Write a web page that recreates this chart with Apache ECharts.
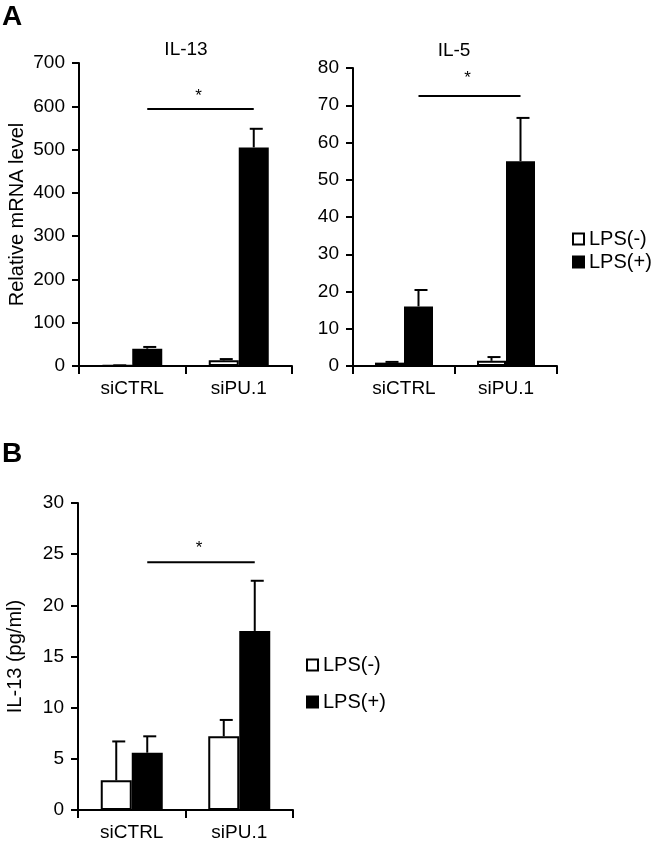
<!DOCTYPE html>
<html>
<head>
<meta charset="utf-8">
<script src="https://cdn.jsdelivr.net/npm/echarts@6/dist/echarts.min.js"></script>
<style>
html,body{margin:0;padding:0;background:#fff;}
#chart{width:651px;height:842px;}
</style>
</head>
<body>
<div id="chart"></div>
<script>
// ---- data ----
var categories = ['siCTRL', 'siPU.1'];
var seriesNames = ['LPS(-)', 'LPS(+)'];

// Panel A, IL-13 relative mRNA
var il13Neg = [1, 13];
var il13NegErr = [0.5, 3];
var il13Pos = [40, 505];
var il13PosErr = [4, 43];
var il13Sig = 594;
var il13Ticks = [0, 700, 100];

// Panel A, IL-5 relative mRNA
var il5Neg = [0.9, 1.4];
var il5NegErr = [0.2, 1.0];
var il5Pos = [16, 55];
var il5PosErr = [4.4, 11.6];
var il5Sig = 72.5;
var il5Ticks = [0, 80, 10];

// Panel B, IL-13 protein (pg/ml)
var elisaNeg = [2.9, 7.2];
var elisaNegErr = [3.8, 1.6];
var elisaPos = [5.6, 17.5];
var elisaPosErr = [1.6, 4.9];
var elisaSig = 24.2;
var elisaTicks = [0, 30, 5];

var FONT = '"Liberation Sans", Arial, sans-serif';
var BLACK = '#000';

function errData(vals, errs) {
  return vals.map(function (v, i) { return [i, v, errs[i]]; });
}

function errSeries(gi, vals, errs, offset) {
  return {
    type: 'custom', xAxisIndex: gi, yAxisIndex: gi, z: 1,
    silent: true,
    data: errData(vals, errs),
    renderItem: function (params, api) {
      var base = api.coord([api.value(0), api.value(1)]);
      var top = api.coord([api.value(0), api.value(1) + api.value(2)]);
      var x = base[0] + offset;
      return {
        type: 'group',
        children: [
          { type: 'line', shape: { x1: x, y1: base[1], x2: x, y2: top[1] },
            style: { stroke: BLACK, lineWidth: 2 } },
          { type: 'line', shape: { x1: x - 4, y1: top[1], x2: x + 9, y2: top[1] },
            style: { stroke: BLACK, lineWidth: 2 } }
        ]
      };
    }
  };
}

function sigSeries(gi, y, offset, starGap) {
  return {
    type: 'custom', xAxisIndex: gi, yAxisIndex: gi, z: 3, silent: true,
    data: [[0, 1, y]],
    renderItem: function (params, api) {
      var p0 = api.coord([api.value(0), api.value(2)]);
      var p1 = api.coord([api.value(1), api.value(2)]);
      var x0 = p0[0] + offset, x1 = p1[0] + offset;
      return {
        type: 'group',
        children: [
          { type: 'line', shape: { x1: x0, y1: p0[1], x2: x1, y2: p0[1] },
            style: { stroke: BLACK, lineWidth: 2 } },
          { type: 'text', style: { text: '*', x: (x0 + x1) / 2 - 2, y: p0[1] - starGap,
              textAlign: 'center', textVerticalAlign: 'middle',
              font: '17px ' + FONT, fill: BLACK } }
        ]
      };
    }
  };
}

function barSeries(gi, name, vals, white, bw) {
  return {
    type: 'bar', name: name, xAxisIndex: gi, yAxisIndex: gi, z: 2,
    data: vals, barWidth: bw, barGap: '0%',
    itemStyle: { color: white ? '#fff' : BLACK, borderColor: BLACK, borderWidth: 2 },
    emphasis: { disabled: true }
  };
}

var grids = [
  { left: 79, top: 63, width: 213, height: 303 },
  { left: 353, top: 68, width: 204, height: 298 },
  { left: 78, top: 503, width: 215, height: 310 }
];

function xAxis(gi) {
  return {
    type: 'category', gridIndex: gi, data: categories,
    axisLine: { lineStyle: { color: BLACK, width: 2 } },
    axisTick: { show: true, length: 8, lineStyle: { color: BLACK, width: 2 } },
    axisLabel: { color: BLACK, fontSize: 19, fontFamily: FONT, margin: 13 }
  };
}

function yAxis(gi, ticks, name, gap) {
  return {
    type: 'value', gridIndex: gi, min: ticks[0], max: ticks[1], interval: ticks[2],
    name: name, nameLocation: 'middle', nameGap: gap,
    nameTextStyle: { color: BLACK, fontSize: 20, fontFamily: FONT },
    splitLine: { show: false },
    axisLine: { show: true, lineStyle: { color: BLACK, width: 2 } },
    axisTick: { show: true, length: 7, lineStyle: { color: BLACK, width: 2 } },
    axisLabel: { color: BLACK, fontSize: 19, fontFamily: FONT, margin: 14 }
  };
}

var chart = echarts.init(document.getElementById('chart'), null, { renderer: 'canvas' });

var option = {
  animation: false,
  backgroundColor: '#fff',
  grid: grids,
  xAxis: [xAxis(0), xAxis(1), xAxis(2)],
  yAxis: [
    yAxis(0, il13Ticks, 'Relative mRNA level', 52),
    yAxis(1, il5Ticks, '', 0),
    yAxis(2, elisaTicks, 'IL-13 (pg/ml)', 53)
  ],
  legend: [
    { data: seriesNames, orient: 'vertical', left: 572, top: 229, itemWidth: 11, itemHeight: 11,
      itemGap: 3, icon: 'rect', selectedMode: false, padding: 0,
      textStyle: { color: BLACK, fontSize: 20, fontFamily: FONT } },
    { data: seriesNames, orient: 'vertical', left: 306, top: 655, itemWidth: 11, itemHeight: 11,
      itemGap: 17, icon: 'rect', selectedMode: false, padding: 0,
      textStyle: { color: BLACK, fontSize: 20, fontFamily: FONT } }
  ],
  graphic: [
    { type: 'text', left: 2, top: 3, style: { text: 'A', font: 'bold 28px ' + FONT, fill: BLACK } },
    { type: 'text', left: 2, top: 440, style: { text: 'B', font: 'bold 28px ' + FONT, fill: BLACK } },
    { type: 'text', style: { text: 'IL-13', x: 186, y: 50, textAlign: 'center', textVerticalAlign: 'middle',
        font: '19px ' + FONT, fill: BLACK } },
    { type: 'text', style: { text: 'IL-5', x: 454, y: 51, textAlign: 'center', textVerticalAlign: 'middle',
        font: '19px ' + FONT, fill: BLACK } }
  ],
  series: [
    barSeries(0, seriesNames[0], il13Neg, true, 30),
    barSeries(0, seriesNames[1], il13Pos, false, 30),
    errSeries(0, il13Neg, il13NegErr, -15),
    errSeries(0, il13Pos, il13PosErr, 15),
    sigSeries(0, il13Sig, 15, 13),

    barSeries(1, seriesNames[0], il5Neg, true, 29),
    barSeries(1, seriesNames[1], il5Pos, false, 29),
    errSeries(1, il5Neg, il5NegErr, -14.5),
    errSeries(1, il5Pos, il5PosErr, 14.5),
    sigSeries(1, il5Sig, 14.5, 18),

    barSeries(2, seriesNames[0], elisaNeg, true, 31),
    barSeries(2, seriesNames[1], elisaPos, false, 31),
    errSeries(2, elisaNeg, elisaNegErr, -15.5),
    errSeries(2, elisaPos, elisaPosErr, 15.5),
    sigSeries(2, elisaSig, 15.5, 14)
  ]
};
chart.setOption(option);
</script>
</body>
</html>
